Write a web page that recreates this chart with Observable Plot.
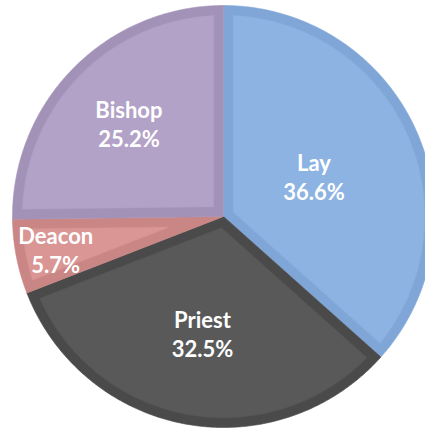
<!DOCTYPE html>
<html>
<head>
<meta charset="utf-8">
<script src="https://cdn.jsdelivr.net/npm/d3@7"></script>
<script src="https://cdn.jsdelivr.net/npm/@observablehq/plot@0.6"></script>
<style>
  html, body { margin: 0; padding: 0; background: #fff; overflow: hidden; }
</style>
</head>
<body>
<div id="chart"></div>
<script>
// ---- data ----
const categories = ["Lay", "Priest", "Deacon", "Bishop"];
const shares = [36.6, 32.5, 5.7, 25.2];
const fillColors = ["#8DB3E2", "#595959", "#D99694", "#B3A2C7"];
const edgeColors = ["#80A6D8", "#4A4A4A", "#C98684", "#A292B8"];

// ---- layout constants (not data) ----
const W = 425, H = 430;
const R = 211, CX = 223, CY = 216;      // pixel radius & centre
const bevel = 10 / R;                   // inner border width (in radius units)
const labelRadius = [0.47, 0.56, 0.81, 0.63];

const table = categories.map((c, i) => ({category: c, share: shares[i], i}));
const arcs = d3.pie().sort(null).value(d => d.share)(table);

function sectorPoints(a0, a1, inset) {
  const pts = [];
  const r = 1 - inset;
  const da = inset > 0 ? Math.asin(inset / r) : 0;
  const half = (a1 - a0) / 2;
  const vd = inset > 0 ? inset / Math.sin(half) : 0;
  const mid = (a0 + a1) / 2;
  pts.push({x: vd * Math.sin(mid), y: vd * Math.cos(mid)});
  const s = a0 + da, e = a1 - da;
  const n = Math.max(2, Math.ceil((e - s) / (Math.PI / 360)));
  for (let k = 0; k <= n; k++) {
    const a = s + (e - s) * k / n;
    pts.push({x: r * Math.sin(a), y: r * Math.cos(a)});
  }
  return pts;
}

const marks = [];
arcs.forEach(a => {
  const i = a.data.i;
  marks.push(Plot.line(sectorPoints(a.startAngle, a.endAngle, 0), {
    x: "x", y: "y", curve: "linear-closed",
    fill: edgeColors[i], stroke: edgeColors[i], strokeWidth: 0.6, clip: true
  }));
});
arcs.forEach(a => {
  const i = a.data.i;
  marks.push(Plot.line(sectorPoints(a.startAngle, a.endAngle, bevel), {
    x: "x", y: "y", curve: "linear-closed",
    fill: fillColors[i], stroke: fillColors[i], strokeWidth: 1.5, strokeOpacity: 0.5, clip: true
  }));
});

const labelData = arcs.map(a => {
  const i = a.data.i;
  const m = (a.startAngle + a.endAngle) / 2;
  const lr = labelRadius[i];
  return {
    x: lr * Math.sin(m), y: lr * Math.cos(m),
    text: `${a.data.category}\n${a.data.share.toFixed(1)}%`
  };
});
marks.push(Plot.text(labelData, {
  x: "x", y: "y", text: "text",
  fill: "white", fontSize: 22, fontWeight: "bold", fontFamily: "Lato",
  lineHeight: 1.33
}));

const chart = Plot.plot({
  width: W, height: H,
  margin: 0,
  x: {domain: [-CX / R, (W - CX) / R], axis: null},
  y: {domain: [-(H - CY) / R, CY / R], axis: null},
  style: {background: "white", overflow: "hidden"},
  marks
});
document.getElementById("chart").appendChild(chart);
</script>
</body>
</html>
